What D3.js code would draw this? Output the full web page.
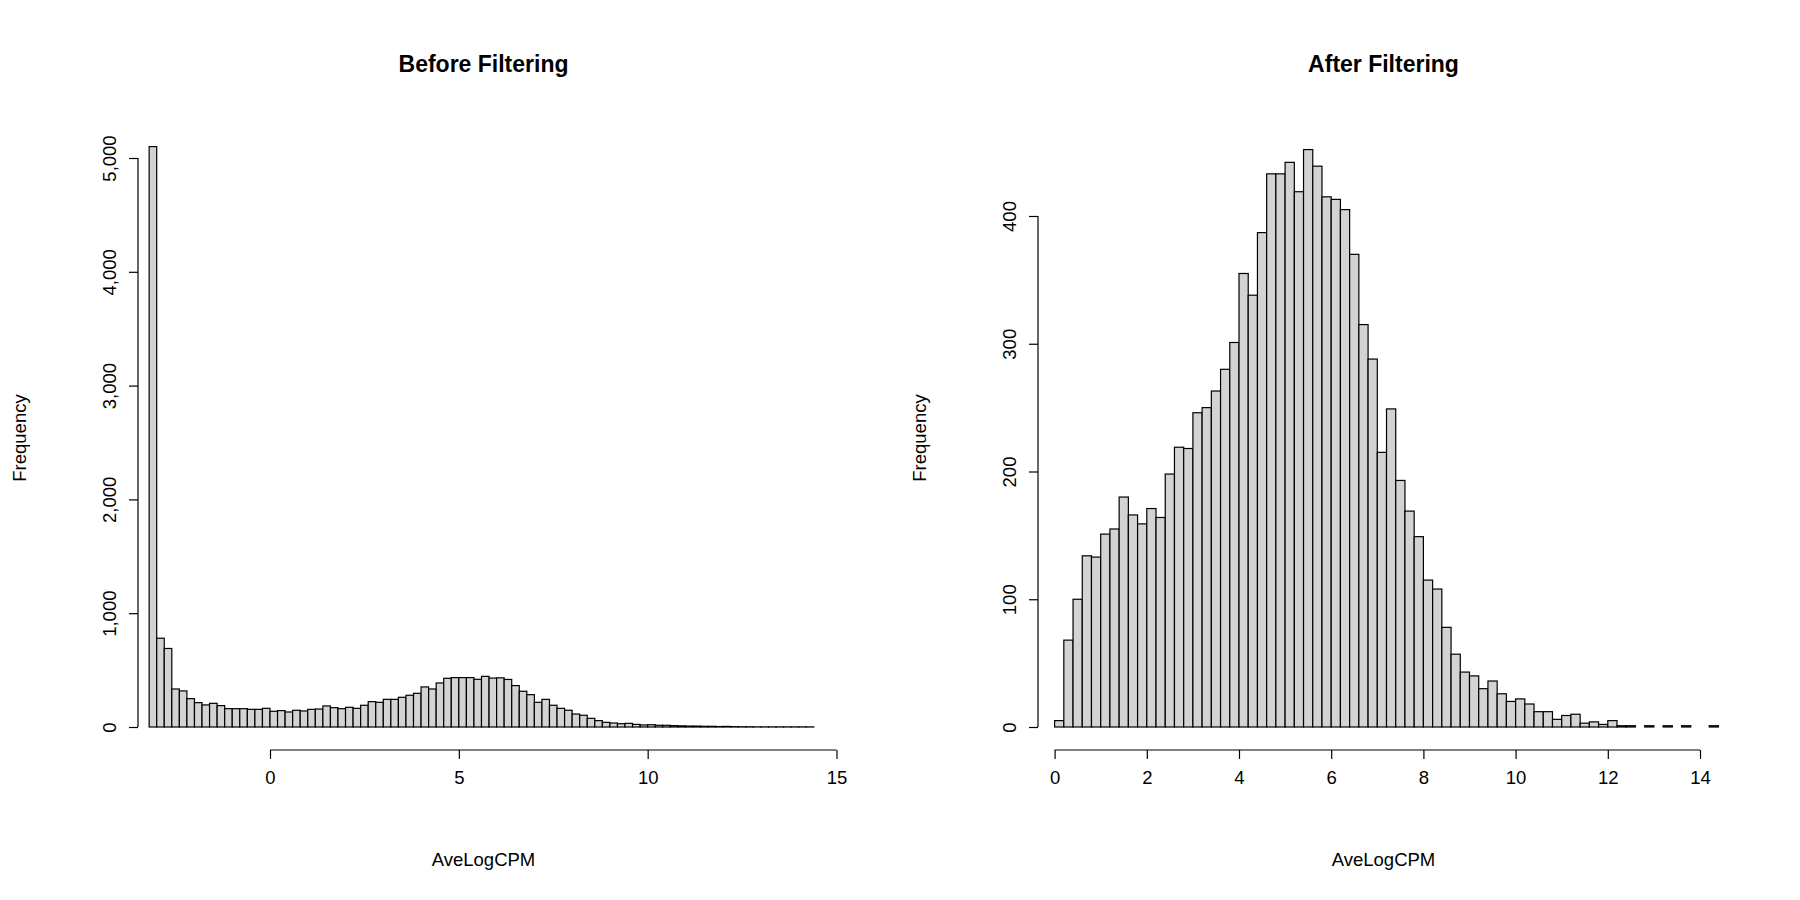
<!DOCTYPE html>
<html>
<head>
<meta charset="utf-8">
<script src="https://cdn.jsdelivr.net/npm/d3@7"></script>
<style>
  body { margin: 0; background: #fff; }
  text { font-family: "Liberation Sans", Arial, sans-serif; fill: #000; }
</style>
</head>
<body>
<div id="chart"></div>
<script>
// Before filtering: bins of 0.2 starting at -3.2
const beforeStart = -3.2;
const beforeWidth = 0.2;
const beforeCounts = [
  5100, 780, 690, 334, 317, 249, 214, 194, 208, 188,
  161, 161, 161, 155, 155, 164, 138, 144, 132, 147,
  141, 155, 158, 185, 170, 161, 173, 164, 191, 223,
  217, 243, 243, 261, 279, 296, 352, 334, 387, 428,
  434, 434, 434, 419, 445, 430, 432, 418, 364, 314,
  284, 217, 243, 191, 164, 147, 114, 103, 76, 56,
  41, 35, 29, 32, 23, 18, 20, 15, 15, 12,
  10, 8, 8, 6, 6, 4, 5, 3, 2, 2,
  1, 1, 1, 1, 1, 1, 1, 1
];
const beforeXTicks = [0, 5, 10, 15];
const beforeYTicks = [0, 1000, 2000, 3000, 4000, 5000];

// After filtering: bins of 0.2 starting at 0
const afterStart = 0;
const afterWidth = 0.2;
const afterCounts = [
  5, 68, 100, 134, 133, 151, 155, 180, 166, 159,
  171, 164, 198, 219, 218, 246, 250, 263, 280, 301,
  355, 338, 387, 433, 433, 442, 419, 452, 439, 415,
  413, 405, 370, 315, 288, 215, 249, 193, 169, 149,
  115, 108, 78, 57, 43, 40, 30, 36, 26, 20,
  22, 18, 12, 12, 6, 9, 10, 3, 4, 2,
  5, 1, 1, 0, 1, 0, 1, 0, 1, 0,
  0, 1
];
const afterXTicks = [0, 2, 4, 6, 8, 10, 12, 14];
const afterYTicks = [0, 100, 200, 300, 400];

const svg = d3.select('#chart').append('svg')
  .attr('width', 1800).attr('height', 900);

function panel(opt) {
  const x = d3.scaleLinear().domain(opt.xDomain).range(opt.xRange);
  const y = d3.scaleLinear().domain(opt.yDomain).range(opt.yRange);
  const bins = opt.counts.map((c, i) => ({ x0: opt.start + i * opt.width, x1: opt.start + (i + 1) * opt.width, c }));
  const g = svg.append('g');

  g.selectAll('rect').data(bins).join('rect')
    .attr('x', d => x(d.x0))
    .attr('y', d => y(d.c))
    .attr('width', d => x(d.x1) - x(d.x0))
    .attr('height', d => y(0) - y(d.c))
    .attr('fill', '#d3d3d3')
    .attr('stroke', '#000')
    .attr('stroke-width', 1.2);

  // x axis (R style, offset below)
  const xa = g.append('g').attr('transform', `translate(0,${opt.xAxisY})`)
    .call(d3.axisBottom(x).tickValues(opt.xTicks).tickSize(9).tickPadding(12).tickSizeOuter(0));
  xa.select('.domain').attr('d', `M${x(opt.xTicks[0])},0H${x(opt.xTicks[opt.xTicks.length - 1])}`);

  // y axis
  const ya = g.append('g').attr('transform', `translate(${opt.yAxisX},0)`)
    .call(d3.axisLeft(y).tickValues(opt.yTicks).tickSize(9).tickSizeOuter(0));
  ya.select('.domain').attr('d', `M0,${y(opt.yTicks[0])}V${y(opt.yTicks[opt.yTicks.length - 1])}`);
  ya.selectAll('.tick text')
    .attr('transform', 'rotate(-90)')
    .attr('x', 0).attr('y', -22).attr('dy', 0)
    .attr('text-anchor', 'middle');

  g.selectAll('.tick text').style('font-size', '18.5px').style('font-family', '"Liberation Sans", Arial, sans-serif');
  g.selectAll('.domain, .tick line').attr('stroke', '#000').attr('stroke-width', 1.2);

  const cx = (opt.plotLeft + opt.plotRight) / 2;
  g.append('text').attr('x', cx).attr('y', 72).attr('text-anchor', 'middle')
    .style('font-size', '23px').style('font-weight', 'bold').text(opt.title);
  g.append('text').attr('x', cx).attr('y', 866).attr('text-anchor', 'middle')
    .style('font-size', '18.5px').text('AveLogCPM');
  g.append('text').attr('transform', `translate(${opt.yAxisX - 112},438) rotate(-90)`)
    .attr('text-anchor', 'middle').style('font-size', '18.5px').text('Frequency');
}

panel({
  title: 'Before Filtering', counts: beforeCounts, start: beforeStart, width: beforeWidth,
  xDomain: [0, 15], xRange: [270, 836.5], yDomain: [0, 5000], yRange: [727, 158],
  xTicks: beforeXTicks, yTicks: beforeYTicks, xAxisY: 750, yAxisX: 138,
  plotLeft: 131, plotRight: 836
});

panel({
  title: 'After Filtering', counts: afterCounts, start: afterStart, width: afterWidth,
  xDomain: [0, 14], xRange: [1054.6, 1700], yDomain: [0, 400], yRange: [727, 216],
  xTicks: afterXTicks, yTicks: afterYTicks, xAxisY: 750, yAxisX: 1038,
  plotLeft: 1031, plotRight: 1736
});
</script>
</body>
</html>
